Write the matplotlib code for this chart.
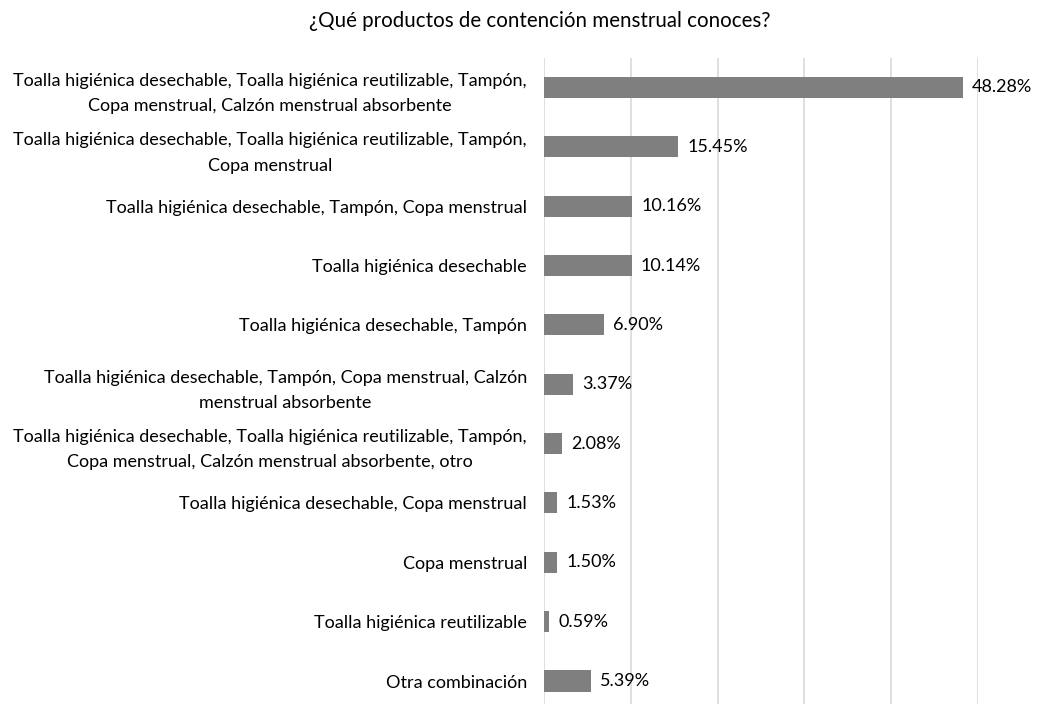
import matplotlib
matplotlib.use("Agg")
import matplotlib.pyplot as plt

categories = [
    "Toalla higiénica desechable, Toalla higiénica reutilizable, Tampón,\nCopa menstrual, Calzón menstrual absorbente",
    "Toalla higiénica desechable, Toalla higiénica reutilizable, Tampón,\nCopa menstrual",
    "Toalla higiénica desechable, Tampón, Copa menstrual",
    "Toalla higiénica desechable",
    "Toalla higiénica desechable, Tampón",
    "Toalla higiénica desechable, Tampón, Copa menstrual, Calzón\nmenstrual absorbente",
    "Toalla higiénica desechable, Toalla higiénica reutilizable, Tampón,\nCopa menstrual, Calzón menstrual absorbente, otro",
    "Toalla higiénica desechable, Copa menstrual",
    "Copa menstrual",
    "Toalla higiénica reutilizable",
    "Otra combinación",
]
values = [48.28, 15.45, 10.16, 10.14, 6.90, 3.37, 2.08, 1.53, 1.50, 0.59, 5.39]
value_labels = ["48.28%", "15.45%", "10.16%", "10.14%", "6.90%", "3.37%", "2.08%", "1.53%", "1.50%", "0.59%", "5.39%"]
title = "¿Qué productos de contención menstrual conoces?"

plt.rcParams['font.family'] = ['Lato', 'DejaVu Sans']

W, H = 1052, 704
fig = plt.figure(figsize=(W / 100, H / 100), dpi=100)
left, right = 544 / W, 978 / W
top_px, bot_px = 57.8, 710.7
ax = fig.add_axes([left, 1 - bot_px / H, right - left, (bot_px - top_px) / H])

n = len(categories)
ypos = list(range(n))
ax.barh(ypos, values, height=0.355, color="#7f7f7f", zorder=3)
ax.set_ylim(n - 0.5, -0.5)
ax.set_xlim(0, 50)
ax.set_xticks([0, 10, 20, 30, 40, 50])
ax.xaxis.grid(True, color="#d9d9d9", linewidth=1.2, zorder=0)
ax.tick_params(axis="x", which="both", length=0, labelbottom=False)
ax.tick_params(axis="y", length=0, pad=12.2)
ax.set_yticks(ypos)
ax.set_yticklabels(categories, fontsize=13, color="#000000", ha="right", multialignment="center", linespacing=1.72)
for s in ax.spines.values():
    s.set_visible(False)

for y, v, lab in zip(ypos, values, value_labels):
    ax.annotate(lab, (v, y), xytext=(9, 0), textcoords="offset pixels",
                va="center", ha="left", fontsize=13, color="#000000", annotation_clip=False)

fig.text(540 / W, 1 - 21 / H, title, ha="center", va="center", fontsize=14.8, color="#000000")

fig.savefig("out.png", dpi=100, facecolor="white")
